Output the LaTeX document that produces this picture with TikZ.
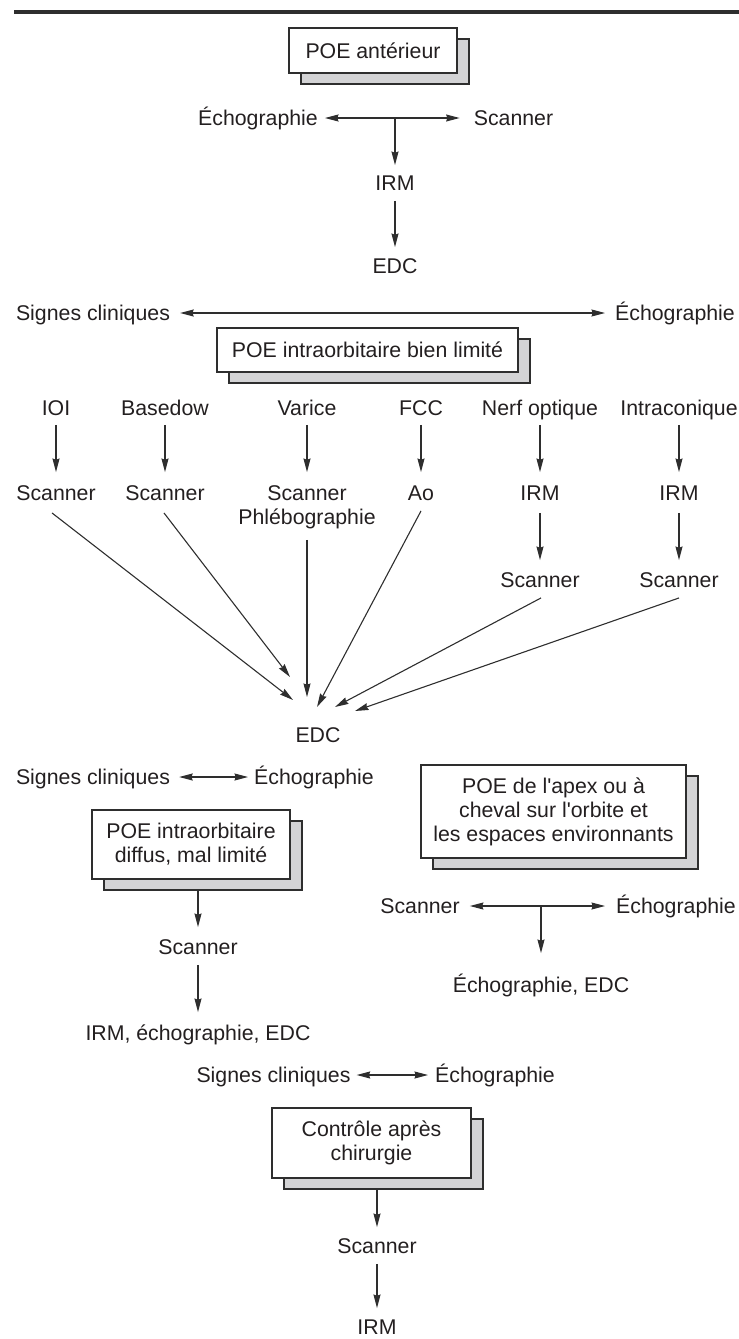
\documentclass[tikz,border=0pt]{standalone}
\usepackage{fontspec}
\setmainfont{Liberation Sans}[Ligatures=TeXOff]
\usetikzlibrary{arrows.meta,shadows,calc}
\definecolor{ink}{HTML}{231F20}
\definecolor{lncol}{HTML}{2E2E2E}
\definecolor{shd}{HTML}{D3D3D5}
\begin{document}
\begin{tikzpicture}[x=1pt,y=-1pt,
  font=\fontsize{21.3pt}{24pt}\selectfont, text=ink,
  >={Stealth[length=13.5pt,width=7pt,inset=1.2pt]},
  lbl/.style={inner sep=0pt, text height=15.5pt, text depth=0pt},
  boxnode/.style={draw=lncol, line width=1.2pt, fill=white, inner sep=0pt, align=center,
     general shadow={fill=shd, draw=lncol, line width=1.2pt, shadow xshift=12pt, shadow yshift=-11pt}},
  arr/.style={draw=lncol, line width=1.1pt, ->, shorten <=10pt, shorten >=11pt},
  diag/.style={draw=lncol, line width=1.1pt, ->},
  dbl/.style={draw=lncol, line width=1.1pt, <->}
]
\useasboundingbox (0,0) rectangle (739,1339);
\draw[lncol, line width=3.5pt] (14,12) -- (739,12);

% --- POE antérieur
\node[boxnode, minimum width=168pt, minimum height=45pt] (b1) at (373,50.5) {POE antérieur};
\node[lbl] (echo1) at (258,118) {Échographie};
\node[lbl] (scan1) at (513.5,118) {Scanner};
\node[lbl] (irm1) at (395,183) {IRM};
\node[lbl] (edc1) at (395,266) {EDC};
\draw[dbl, shorten <=7pt, shorten >=14pt] (echo1) -- (scan1);
\draw[arr, shorten <=0pt, shorten >=10pt] (irm1 |- echo1) -- (irm1);
\draw[arr] (irm1) -- (edc1);

% --- POE intraorbitaire bien limité
\node[lbl] (sc1) at (93,313) {Signes cliniques};
\node[lbl] (echo2) at (675,313) {Échographie};
\draw[dbl, shorten <=10pt, shorten >=10pt] (sc1) -- (echo2);
\node[boxnode, minimum width=301pt, minimum height=44pt] (b2) at (367.5,350) {POE intraorbitaire bien limité};

\node[lbl] (ioi) at (56,408) {IOI};
\node[lbl] (bas) at (165,408) {Basedow};
\node[lbl] (var) at (307,408) {Varice};
\node[lbl] (fcc) at (421,408) {FCC};
\node[lbl] (nerf) at (540,408) {Nerf optique};
\node[lbl] (intra) at (679,408) {Intraconique};

\node[lbl] (s1) at (56,493) {Scanner};
\node[lbl] (s2) at (165,493) {Scanner};
\node[lbl] (s3) at (307,493) {Scanner};
\node[lbl] (p3) at (307,517) {Phlébographie};
\node[lbl] (ao) at (421,493) {Ao};
\node[lbl] (irm5) at (540,493) {IRM};
\node[lbl] (irm6) at (679,493) {IRM};
\node[lbl] (n3) at (540,580) {Scanner};
\node[lbl] (i3) at (679,580) {Scanner};

\foreach \a/\b in {ioi/s1,bas/s2,var/s3,fcc/ao,nerf/irm5,intra/irm6}
  \draw[arr, shorten <=9pt, shorten >=13pt] (\a) -- (\b);
\draw[arr, shorten <=12pt, shorten >=12pt] (irm5) -- (n3);
\draw[arr, shorten <=12pt, shorten >=12pt] (irm6) -- (i3);

\node[lbl] (edc2) at (318,735) {EDC};
\coordinate (e1) at (293,700);
\coordinate (e2) at (290,677);
\coordinate (e3) at (307,697);
\coordinate (e4) at (317,707);
\coordinate (e5) at (335,707);
\coordinate (e6) at (355,711);
\draw[diag] ([xshift=-4pt,yshift=-12pt]s1.south) -- (e1);
\draw[diag] ([xshift=-1pt,yshift=-12pt]s2.south) -- (e2);
\draw[diag] ([yshift=-15pt]p3.south) -- (e3);
\draw[diag] ([yshift=-10pt]ao.south) -- (e4);
\draw[diag] ([xshift=1pt,yshift=-10pt]n3.south) -- (e5);
\draw[diag] ([yshift=-10pt]i3.south) -- (e6);

% --- POE intraorbitaire diffus
\node[lbl] (sc2) at (93,777) {Signes cliniques};
\node[lbl] (echo3) at (314,777) {Échographie};
\draw[dbl, shorten <=9pt, shorten >=6pt] (sc2) -- (echo3);
\node[boxnode, minimum width=198pt, minimum height=69pt] (b3) at (191,844.5) {POE intraorbitaire\\diffus, mal limité};
\node[lbl] (ls) at (198,947) {Scanner};
\node[lbl] (lirm) at (198,1033) {IRM, échographie, EDC};
\draw[arr, shorten <=0pt, shorten >=12pt] ($(ls |- b3.south)+(0,11)$) -- (ls);
\draw[arr, shorten >=13pt] (ls) -- (lirm);

% --- POE de l'apex
\node[boxnode, minimum width=265pt, minimum height=93pt] (b4) at (553.5,811.5) {POE de l'apex ou à\\cheval sur l'orbite et\\les espaces environnants};
\node[lbl] (scan4) at (420,906) {Scanner};
\node[lbl] (echo4) at (676,906) {Échographie};
\node[lbl] (ee) at (541,985) {Échographie, EDC};
\draw[dbl, shorten <=10pt, shorten >=11pt] (scan4) -- (echo4);
\draw[arr, shorten <=0pt, shorten >=24pt] (ee |- scan4) -- (ee);

% --- Contrôle après chirurgie
\node[lbl] (sc3) at (273.5,1075) {Signes cliniques};
\node[lbl] (echo5) at (495,1075) {Échographie};
\draw[dbl, shorten <=6pt, shorten >=7pt] (sc3) -- (echo5);
\node[boxnode, minimum width=199pt, minimum height=70pt] (b5) at (371.5,1143) {Contrôle après\\chirurgie};
\node[lbl] (bs) at (377,1246) {Scanner};
\node[lbl] (birm) at (377,1327) {IRM};
\draw[arr, shorten <=0pt] ($(bs |- b5.south)+(0,11)$) -- (bs);
\draw[arr] (bs) -- (birm);
\end{tikzpicture}
\end{document}
